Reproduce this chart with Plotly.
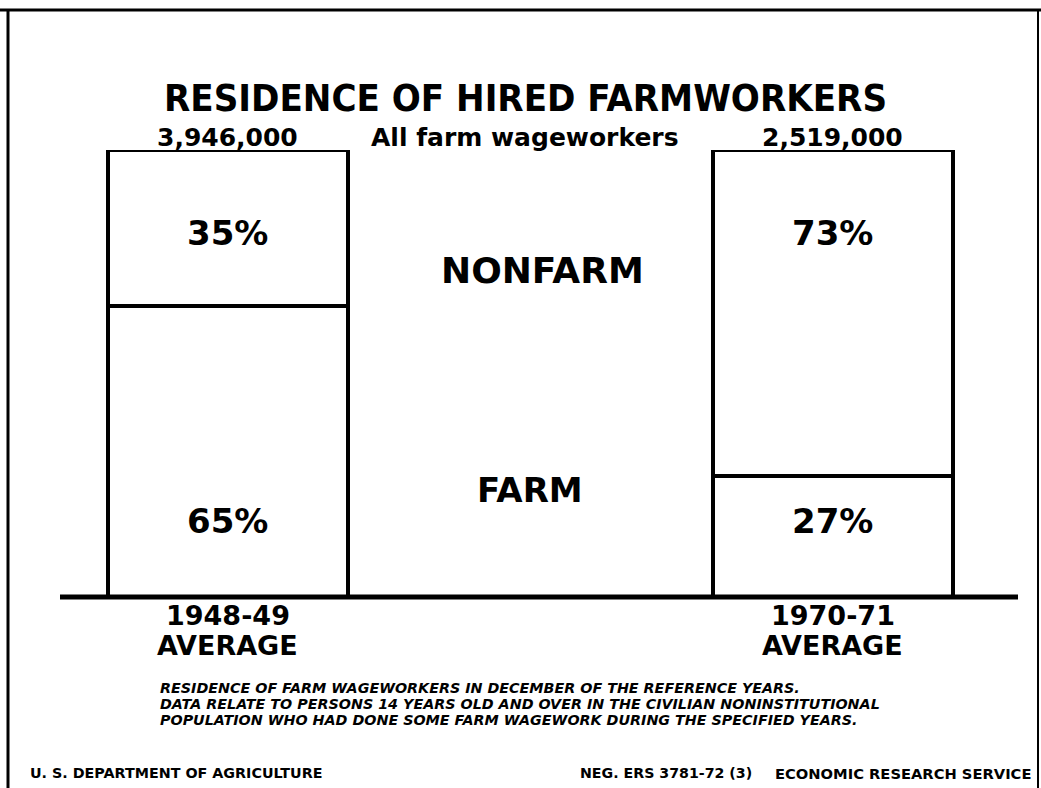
import plotly.graph_objects as go

# ---- data ----
periods = ["1948-49", "1970-71"]
period_sub = ["AVERAGE", "AVERAGE"]
totals = ["3,946,000", "2,519,000"]
farm_pct = [65, 27]
nonfarm_pct = [35, 73]
bar_pos = [0.698, 3.22]

W, H = 1041, 788
ML, MR, MT, MB = 60, 21, 150, 191
PW, PH = W - ML - MR, H - MT - MB

def px(x):
    return (x - ML) / PW

def py(y):
    return (H - MB - y) / PH

FONT = "DejaVu Sans"
COND = "DejaVu Sans Condensed, Liberation Sans, sans-serif"

fig = go.Figure()
fig.add_trace(go.Bar(x=bar_pos, y=farm_pct, width=1.0, name="Farm",
                     marker=dict(color="white", line=dict(color="black", width=4)),
                     hoverinfo="skip"))
fig.add_trace(go.Bar(x=bar_pos, y=nonfarm_pct, width=1.0, name="Nonfarm",
                     marker=dict(color="white", line=dict(color="black", width=4)),
                     hoverinfo="skip"))

def A(x, y, text, size, xref="paper", yref="paper", family=FONT, xanchor="center"):
    return dict(x=x, y=y, xref=xref, yref=yref, text=text, showarrow=False,
                xanchor=xanchor, yanchor="middle",
                font=dict(family=family, size=size, color="black"))

ann = []
for xp, f, n in zip(bar_pos, farm_pct, nonfarm_pct):
    ann.append(A(xp, 81.5, f"<b>{n}%</b>", 34, xref="x", yref="y"))
    ann.append(A(xp, 17, f"<b>{f}%</b>", 34, xref="x", yref="y"))
for xp, t in zip(bar_pos, totals):
    ann.append(A(xp, py(137), f"<b>{t}</b>", 25, xref="x"))
for xp, p, s in zip(bar_pos, periods, period_sub):
    ann.append(A(xp, py(615), f"<b>{p}</b>", 27, xref="x"))
    ann.append(A(xp, py(645), f"<b>{s}</b>", 27, xref="x"))

ann += [
    A(px(525), py(98), "<b>RESIDENCE OF HIRED FARMWORKERS</b>", 38, family=COND),
    A(px(525), py(137), "<b>All farm wageworkers</b>", 25),
    A(px(542), py(270), "<b>NONFARM</b>", 36),
    A(px(530), py(490), "<b>FARM</b>", 34),
]

notes = [
    "RESIDENCE OF FARM WAGEWORKERS IN DECEMBER OF THE REFERENCE YEARS.",
    "DATA RELATE TO PERSONS 14 YEARS OLD AND OVER IN THE CIVILIAN NONINSTITUTIONAL",
    "POPULATION WHO HAD DONE SOME FARM WAGEWORK DURING THE SPECIFIED YEARS.",
]
for i, line in enumerate(notes):
    ann.append(A(px(158), py(688 + 16 * i), f"<b><i>{line}</i></b>", 14.3,
                 xanchor="left"))

ann += [
    A(px(28), py(773), "<b>U. S. DEPARTMENT OF AGRICULTURE</b>", 14.3, xanchor="left"),
    A(px(578), py(773), "<b>NEG. ERS 3781-72 (3)</b>", 14.2, xanchor="left"),
    A(px(1033), py(773), "<b>ECONOMIC RESEARCH SERVICE</b>", 14.7, xanchor="right"),
]

shapes = [
    dict(type="line", xref="paper", yref="paper", x0=px(60), x1=px(1018), y0=0, y1=0,
         line=dict(color="black", width=5)),
    dict(type="line", xref="paper", yref="paper", x0=px(0), x1=px(1041), y0=py(10), y1=py(10),
         line=dict(color="black", width=3)),
    dict(type="line", xref="paper", yref="paper", x0=px(8), x1=px(8), y0=py(10), y1=py(788),
         line=dict(color="black", width=3)),
    dict(type="line", xref="paper", yref="paper", x0=px(1038), x1=px(1038), y0=py(10), y1=py(788),
         line=dict(color="black", width=2)),
]

fig.update_layout(
    width=W, height=H,
    margin=dict(l=ML, r=MR, t=MT, b=MB),
    barmode="stack", bargap=0,
    showlegend=False,
    plot_bgcolor="white", paper_bgcolor="white",
    xaxis=dict(range=[0, 4], visible=False, fixedrange=True),
    yaxis=dict(range=[0, 100], visible=False, fixedrange=True),
    annotations=ann, shapes=shapes,
    hovermode=False,
)

fig.write_html("out.html", config={"displayModeBar": False},
               post_script="document.body.style.margin='0';document.body.style.overflow='hidden';")
